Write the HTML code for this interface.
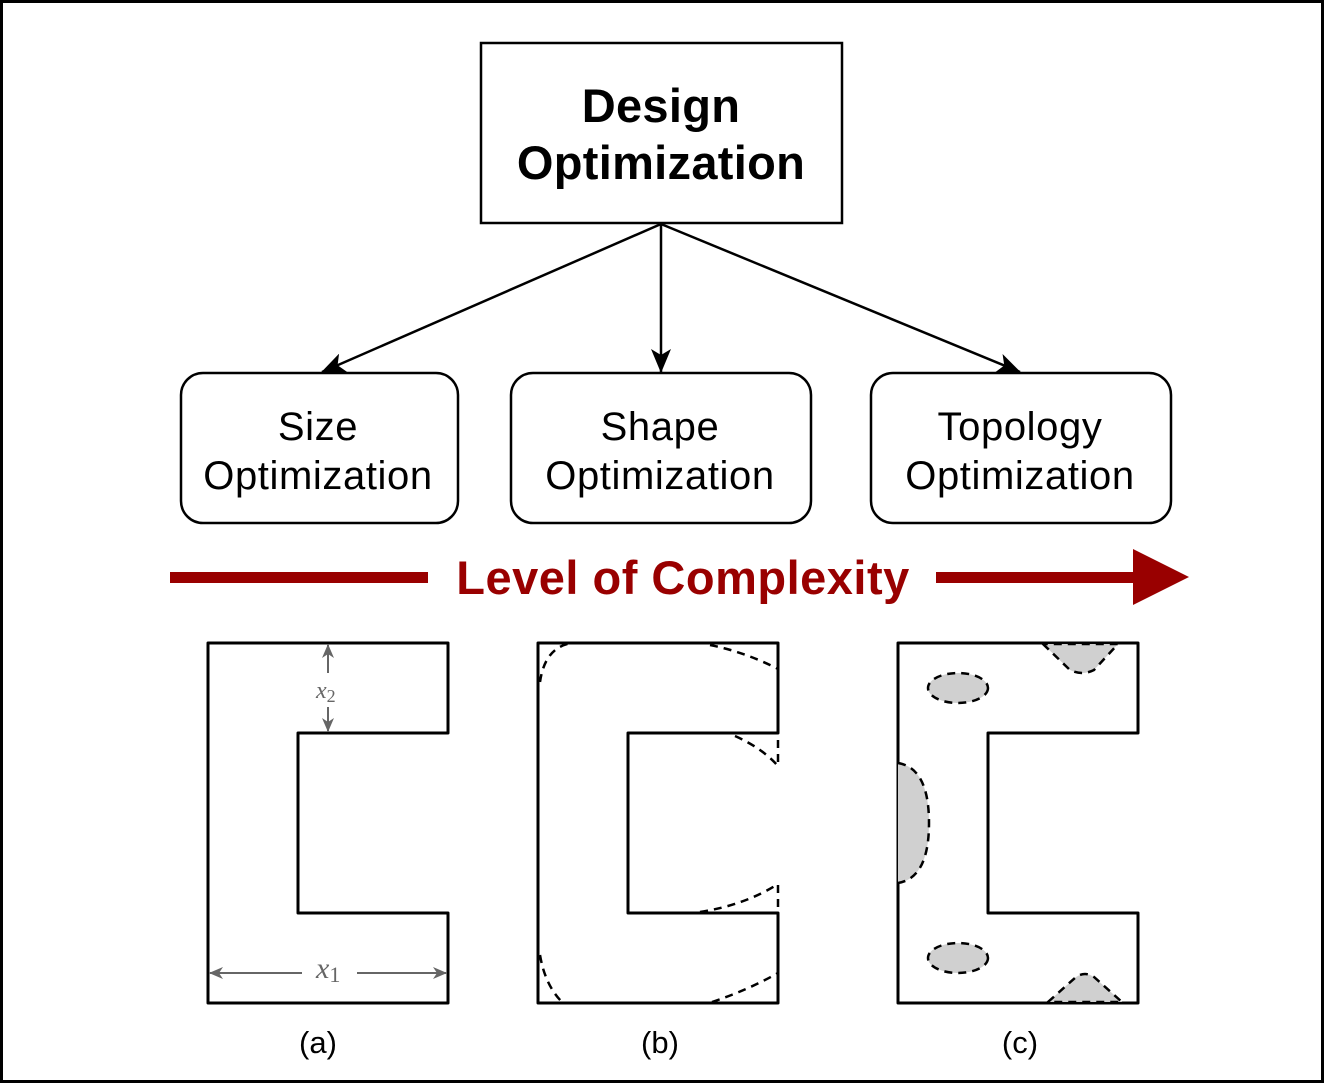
<!DOCTYPE html>
<html><head><style>html,body{margin:0;padding:0;background:#fff}svg{display:block}</style></head><body>
<svg width="1326" height="1086" viewBox="0 0 1326 1086" xmlns="http://www.w3.org/2000/svg" font-family="Liberation Sans, Arial, sans-serif">
<defs>
<marker id="ar" viewBox="0 0 24 20" refX="23" refY="10" markerWidth="24" markerHeight="20" markerUnits="userSpaceOnUse" orient="auto">
<path d="M0,0 L24,10 L0,20 L6,10 Z" fill="#000"/></marker>
<marker id="ga" viewBox="0 0 14 12" refX="13" refY="6" markerWidth="14" markerHeight="12" markerUnits="userSpaceOnUse" orient="auto">
<path d="M0,0 L14,6 L0,12 L4,6 Z" fill="#666"/></marker>
</defs>
<rect x="1.5" y="1.5" width="1321" height="1080" fill="#fff" stroke="#000" stroke-width="3"/>
<rect x="481" y="43" width="361" height="180" fill="#fff" stroke="#000" stroke-width="2.5"/>
<text x="661" y="122" font-size="47" font-weight="bold" text-anchor="middle" letter-spacing="0.3">Design</text>
<text x="661" y="179" font-size="47" font-weight="bold" text-anchor="middle" letter-spacing="0.3">Optimization</text>
<g stroke="#000" stroke-width="2.5" fill="none">
<line x1="661" y1="224" x2="322" y2="372" marker-end="url(#ar)"/>
<line x1="661" y1="224" x2="661" y2="372" marker-end="url(#ar)"/>
<line x1="661" y1="224" x2="1020" y2="372" marker-end="url(#ar)"/>
<rect x="181" y="373" width="277" height="150" rx="22"/>
<rect x="511" y="373" width="300" height="150" rx="22"/>
<rect x="871" y="373" width="300" height="150" rx="22"/>
</g>
<g font-size="40" text-anchor="middle" letter-spacing="0.6">
<text x="318" y="440">Size</text><text x="318" y="489">Optimization</text>
<text x="660" y="440">Shape</text><text x="660" y="489">Optimization</text>
<text x="1020" y="440">Topology</text><text x="1020" y="489">Optimization</text>
</g>
<g fill="#990000">
<rect x="170" y="572" width="258" height="11"/>
<rect x="936" y="572" width="200" height="11"/>
<path d="M1133,549 L1189,577 L1133,605 Z"/>
<text x="683" y="594" font-size="47" font-weight="bold" text-anchor="middle" letter-spacing="0.5">Level of Complexity</text>
</g>
<g stroke="#000" stroke-width="3" fill="none" stroke-linejoin="round">
<path d="M208,643 H448 V733 H298 V913 H448 V1003 H208 Z"/>
<path d="M538,643 H778 V733 H628 V913 H778 V1003 H538 Z"/>
<path d="M898,643 H1138 V733 H988 V913 H1138 V1003 H898 Z"/>
</g>
<g stroke="#666" stroke-width="2" fill="none">
<line x1="328" y1="673" x2="328" y2="645" marker-end="url(#ga)"/>
<line x1="328" y1="707" x2="328" y2="731" marker-end="url(#ga)"/>
<line x1="302" y1="973" x2="210" y2="973" marker-end="url(#ga)"/>
<line x1="357" y1="973" x2="446" y2="973" marker-end="url(#ga)"/>
</g>
<text x="316" y="698" font-size="24" fill="#666" font-style="italic" font-family="Liberation Serif, serif">x<tspan font-size="18" font-style="normal" dy="4">2</tspan></text>
<text x="316" y="978" font-size="30" fill="#666" font-style="italic" font-family="Liberation Serif, serif">x<tspan font-size="22" font-style="normal" dy="4">1</tspan></text>
<g stroke="#000" stroke-width="2.5" fill="none" stroke-dasharray="8,6">
<path d="M540,682 Q545,647 572,643"/>
<path d="M710,645 Q745,652 778,669"/>
<path d="M735,736 Q762,748 778,766"/>
<path d="M700,912 Q745,905 778,884"/>
<path d="M540,955 Q545,985 562,1002"/>
<path d="M712,1002 Q748,990 778,973"/>
<path d="M778,740 V765 M778,885 V912"/>
</g>
<g stroke="#000" stroke-width="2.5" fill="#d0d0d0" stroke-dasharray="8,6">
<ellipse cx="958" cy="688" rx="30" ry="15"/>
<ellipse cx="958" cy="958" rx="30" ry="15"/>
<path d="M898,763 Q929,768 929,823 Q929,878 898,883"/>
<path d="M1043,644 L1070,670 Q1082,676 1094,670 L1118,644 Z"/>
<path d="M1048,1002 L1076,977 Q1085,971 1094,977 L1122,1002 Z"/>
</g>
<g font-size="31" text-anchor="middle">
<text x="318" y="1053">(a)</text>
<text x="660" y="1053">(b)</text>
<text x="1020" y="1053">(c)</text>
</g>
</svg>
</body></html>
